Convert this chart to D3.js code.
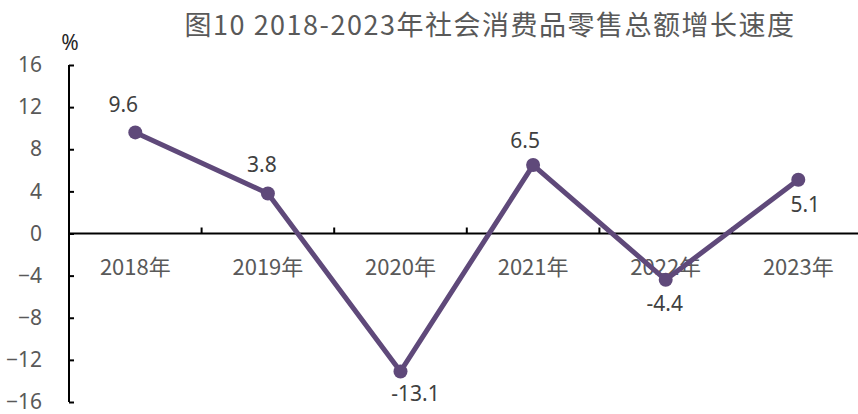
<!DOCTYPE html>
<html>
<head>
<meta charset="utf-8">
<script src="https://cdn.jsdelivr.net/npm/d3@7"></script>
<style>
  body { margin: 0; background: #fff; }
  svg { display: block; }
</style>
</head>
<body>
<div id="chart"></div>
<script>
// data
const years = ["2018年", "2019年", "2020年", "2021年", "2022年", "2023年"]
const growth = [9.6, 3.8, -13.1, 6.5, -4.4, 5.1]
const yTicks = [-16, -12, -8, -4, 0, 4, 8, 12, 16]
const titleText = "图10 2018-2023年社会消费品零售总额增长速度"

const W = 858, H = 414
const axisX = 69
const bandW = 132.6

// label placement (px offsets from each point), as Excel put them
const labelDx = [-12, -6, 15, -8, -1, 7]
const labelDy = [-20, -21, 30, -17, 31, 32]

const svg = d3.select("#chart").append("svg")
    .attr("width", W)
    .attr("height", H)

// scales
const x = d3.scaleBand()
    .domain(years)
    .range([axisX, axisX + bandW * years.length])
    .padding(0)
const y = d3.scaleLinear()
    .domain([-16, 16])
    .range([402, 65])

// title
svg.append("text")
    .attr("x", 490)
    .attr("y", 35)
    .attr("text-anchor", "middle")
    .attr("font-family", "'Noto Sans CJK SC', sans-serif")
    .attr("font-size", 27)
    .attr("letter-spacing", 1.5)
    .attr("fill", "#595959")
    .text(titleText)

// unit
svg.append("text")
    .attr("x", 70)
    .attr("y", 50)
    .attr("text-anchor", "middle")
    .attr("font-family", "'Noto Sans', sans-serif")
    .attr("font-size", 21)
    .attr("fill", "#262626")
    .text("%")

// y axis
const yAxis = svg.append("g")
    .attr("transform", `translate(${axisX},0)`)
    .call(d3.axisRight(y).tickValues(yTicks).tickSize(5).tickFormat(d3.format("d")))
yAxis.select(".domain").attr("stroke", "#000").attr("stroke-width", 2)
    .attr("d", `M0,${y(16)}V${y(-16)}`)
yAxis.selectAll(".tick line").attr("stroke", "#000").attr("stroke-width", 2)
yAxis.selectAll(".tick text")
    .attr("x", -27)
    .attr("text-anchor", "end")
    .attr("font-family", "'Noto Sans', sans-serif")
    .attr("font-size", 21)
    .attr("fill", "#595959")

// x axis along zero
const xAxis = svg.append("g")
    .attr("transform", `translate(0,${y(0)})`)
xAxis.append("line")
    .attr("x1", axisX)
    .attr("x2", W)
    .attr("stroke", "#000")
    .attr("stroke-width", 2)
xAxis.selectAll(".sep")
    .data(years.slice(1))
    .join("line")
    .attr("class", "sep")
    .attr("x1", d => x(d))
    .attr("x2", d => x(d))
    .attr("y1", 0)
    .attr("y2", -6)
    .attr("stroke", "#000")
    .attr("stroke-width", 2)
xAxis.selectAll(".cat")
    .data(years)
    .join("text")
    .attr("class", "cat")
    .attr("x", d => x(d) + x.bandwidth() / 2)
    .attr("y", 41)
    .attr("text-anchor", "middle")
    .attr("font-family", "'Noto Sans CJK SC', sans-serif")
    .attr("font-size", 22)
    .attr("fill", "#595959")
    .text(d => d)

// line
const pts = years.map((d, i) => ({ year: d, v: growth[i], i: i }))
const cx = d => x(d.year) + x.bandwidth() / 2

svg.append("path")
    .datum(pts)
    .attr("fill", "none")
    .attr("stroke", "#5f497a")
    .attr("stroke-width", 5)
    .attr("stroke-linejoin", "round")
    .attr("d", d3.line().x(cx).y(d => y(d.v)))

svg.selectAll(".dot")
    .data(pts)
    .join("circle")
    .attr("class", "dot")
    .attr("cx", cx)
    .attr("cy", d => y(d.v))
    .attr("r", 7)
    .attr("fill", "#5f497a")

svg.selectAll(".lbl")
    .data(pts)
    .join("text")
    .attr("class", "lbl")
    .attr("x", d => cx(d) + labelDx[d.i])
    .attr("y", d => y(d.v) + labelDy[d.i])
    .attr("text-anchor", "middle")
    .attr("font-family", "'Noto Sans', sans-serif")
    .attr("font-size", 21)
    .attr("fill", "#404040")
    .text(d => d.v.toFixed(1))
</script>
</body>
</html>
